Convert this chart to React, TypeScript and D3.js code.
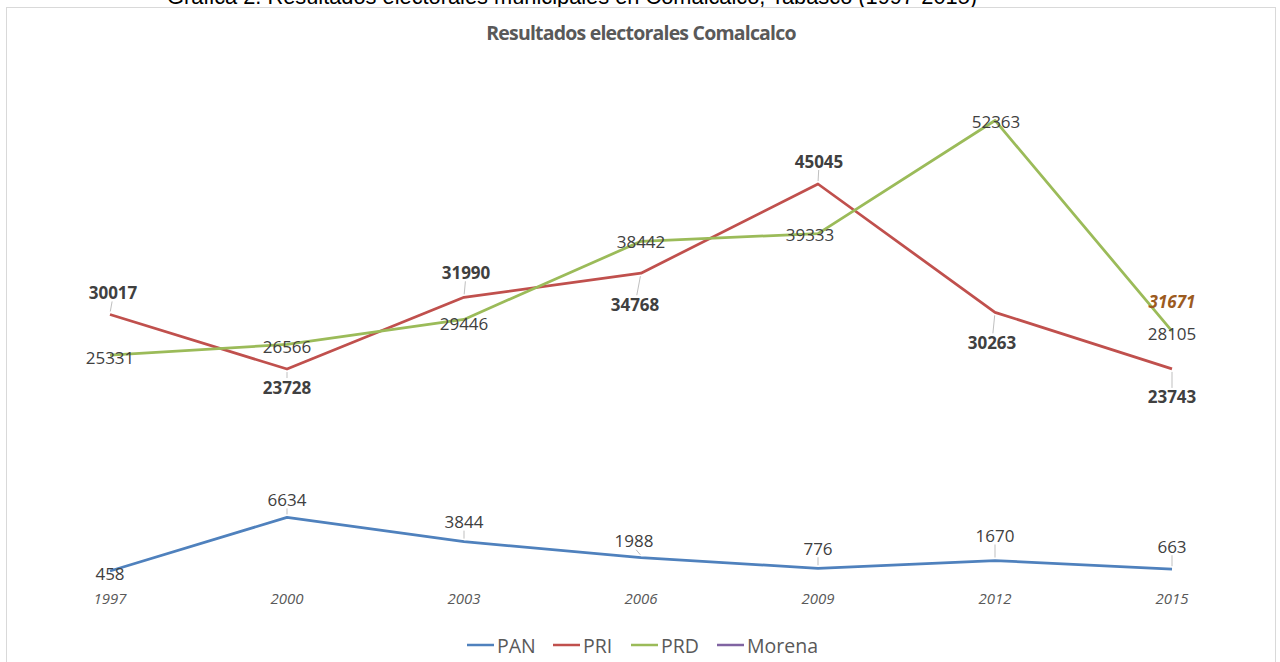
import React from "react";
import * as d3 from "d3";

const years = ["1997", "2000", "2003", "2006", "2009", "2012", "2015"];
const pan = [458, 6634, 3844, 1988, 776, 1670, 663];
const pri = [30017, 23728, 31990, 34768, 45045, 30263, 23743];
const prd = [25331, 26566, 29446, 38442, 39333, 52363, 28105];
const morena: (number | null)[] = [null, null, null, null, null, null, 31671];
const seriesNames = ["PAN", "PRI", "PRD", "Morena"];

// label placement (pixel offsets), kept apart from data
const panLabelOff = [[0, 2], [0, -18], [0, -20], [-7, -17], [0, -20], [0, -25], [0, -23]];
const priLabelOff = [[3, -22], [0, 18], [2, -25], [-6, 31], [1, -23], [-3, 30], [0, 28]];
const prdLabelOff = [[0, 2], [0, 2], [0, 4], [0, 0], [-8, 1], [1, 1.5], [0, 2]];
const morenaLabelOff = [[0, 0], [0, 0], [0, 0], [0, 0], [0, 0], [0, 0], [0, 1]];

const colors = ["#4F81BD", "#C0504D", "#9BBB59", "#8064A2"];

export default function App() {
  const W = 1280, H = 662;
  const x = d3.scalePoint<string>().domain(years).range([110, 1172]);
  const y = d3.scaleLinear().domain([0, 60000]).range([575, 54.2]);
  const line = d3.line<number | null>()
    .defined((d) => d !== null)
    .x((_, i) => x(years[i])!)
    .y((d) => y(d as number));

  const series = [
    { vals: pan as (number | null)[], off: panLabelOff, bold: false, italic: false, color: "#404040" },
    { vals: pri as (number | null)[], off: priLabelOff, bold: true, italic: false, color: "#404040" },
    { vals: prd as (number | null)[], off: prdLabelOff, bold: false, italic: false, color: "#404040" },
    { vals: morena, off: morenaLabelOff, bold: true, italic: true, color: "#9C5B1F" },
  ];

  const font = "'Open Sans', 'Noto Sans', sans-serif";

  const legendX = [467, 553, 631, 717];

  return (
    <svg width={W} height={H} style={{ position: "absolute", left: 0, top: 0, background: "#fff" }}>
      <text x={572} y={4} textAnchor="middle" fontFamily="'Liberation Sans', Arial, sans-serif" fontSize={21.8} fill="#000">
        Gráfica 2. Resultados electorales municipales en Comalcalco, Tabasco (1997-2015)
      </text>
      <rect x={6.5} y={7.5} width={1269} height={700} fill="#fff" stroke="#d9d9d9" strokeWidth={1} />
      <text x={641} y={40} textAnchor="middle" fontFamily={font} fontWeight="bold" fontSize={19.5} fill="#595959" letterSpacing={-0.8}>
        Resultados electorales Comalcalco
      </text>
      {years.map((yr) => (
        <text key={yr} x={x(yr)!} y={604} textAnchor="middle" fontFamily={font} fontStyle="italic" fontSize={15} fill="#595959">
          {yr}
        </text>
      ))}
      {series.map((s, si) => (
        <path key={si} d={line(s.vals) || ""} fill="none" stroke={colors[si]} strokeWidth={2.75} strokeLinejoin="round" />
      ))}
      {series.map((s, si) =>
        s.vals.map((v, i) => {
          if (v === null) return null;
          const px = x(years[i])!;
          const py = y(v);
          const [dx, dy] = s.off[i];
          const lx = px + dx, ly = py + dy;
          const leader = Math.abs(dy) > 15;
          const sign = dy < 0 ? -1 : 1;
          return (
            <g key={`${si}-${i}`}>
              {leader && (
                <line x1={px + dx * 0.1} y1={py + sign * 3} x2={lx - dx * 0.3} y2={ly - sign * 9} stroke="#bfbfbf" strokeWidth={1} />
              )}
              <text x={lx} y={ly} textAnchor="middle" dominantBaseline="central" fontFamily={font}
                fontWeight={s.bold ? "bold" : "normal"} fontStyle={s.italic ? "italic" : "normal"}
                fontSize={17} fill={s.color}>
                {v}
              </text>
            </g>
          );
        })
      )}
      {seriesNames.map((n, i) => (
        <g key={n}>
          <line x1={legendX[i]} x2={legendX[i] + 27} y1={645} y2={645} stroke={colors[i]} strokeWidth={2.5} />
          <text x={legendX[i] + 30} y={645} dominantBaseline="central" fontFamily={font} fontSize={19.5} fill="#595959">
            {n}
          </text>
        </g>
      ))}
    </svg>
  );
}
